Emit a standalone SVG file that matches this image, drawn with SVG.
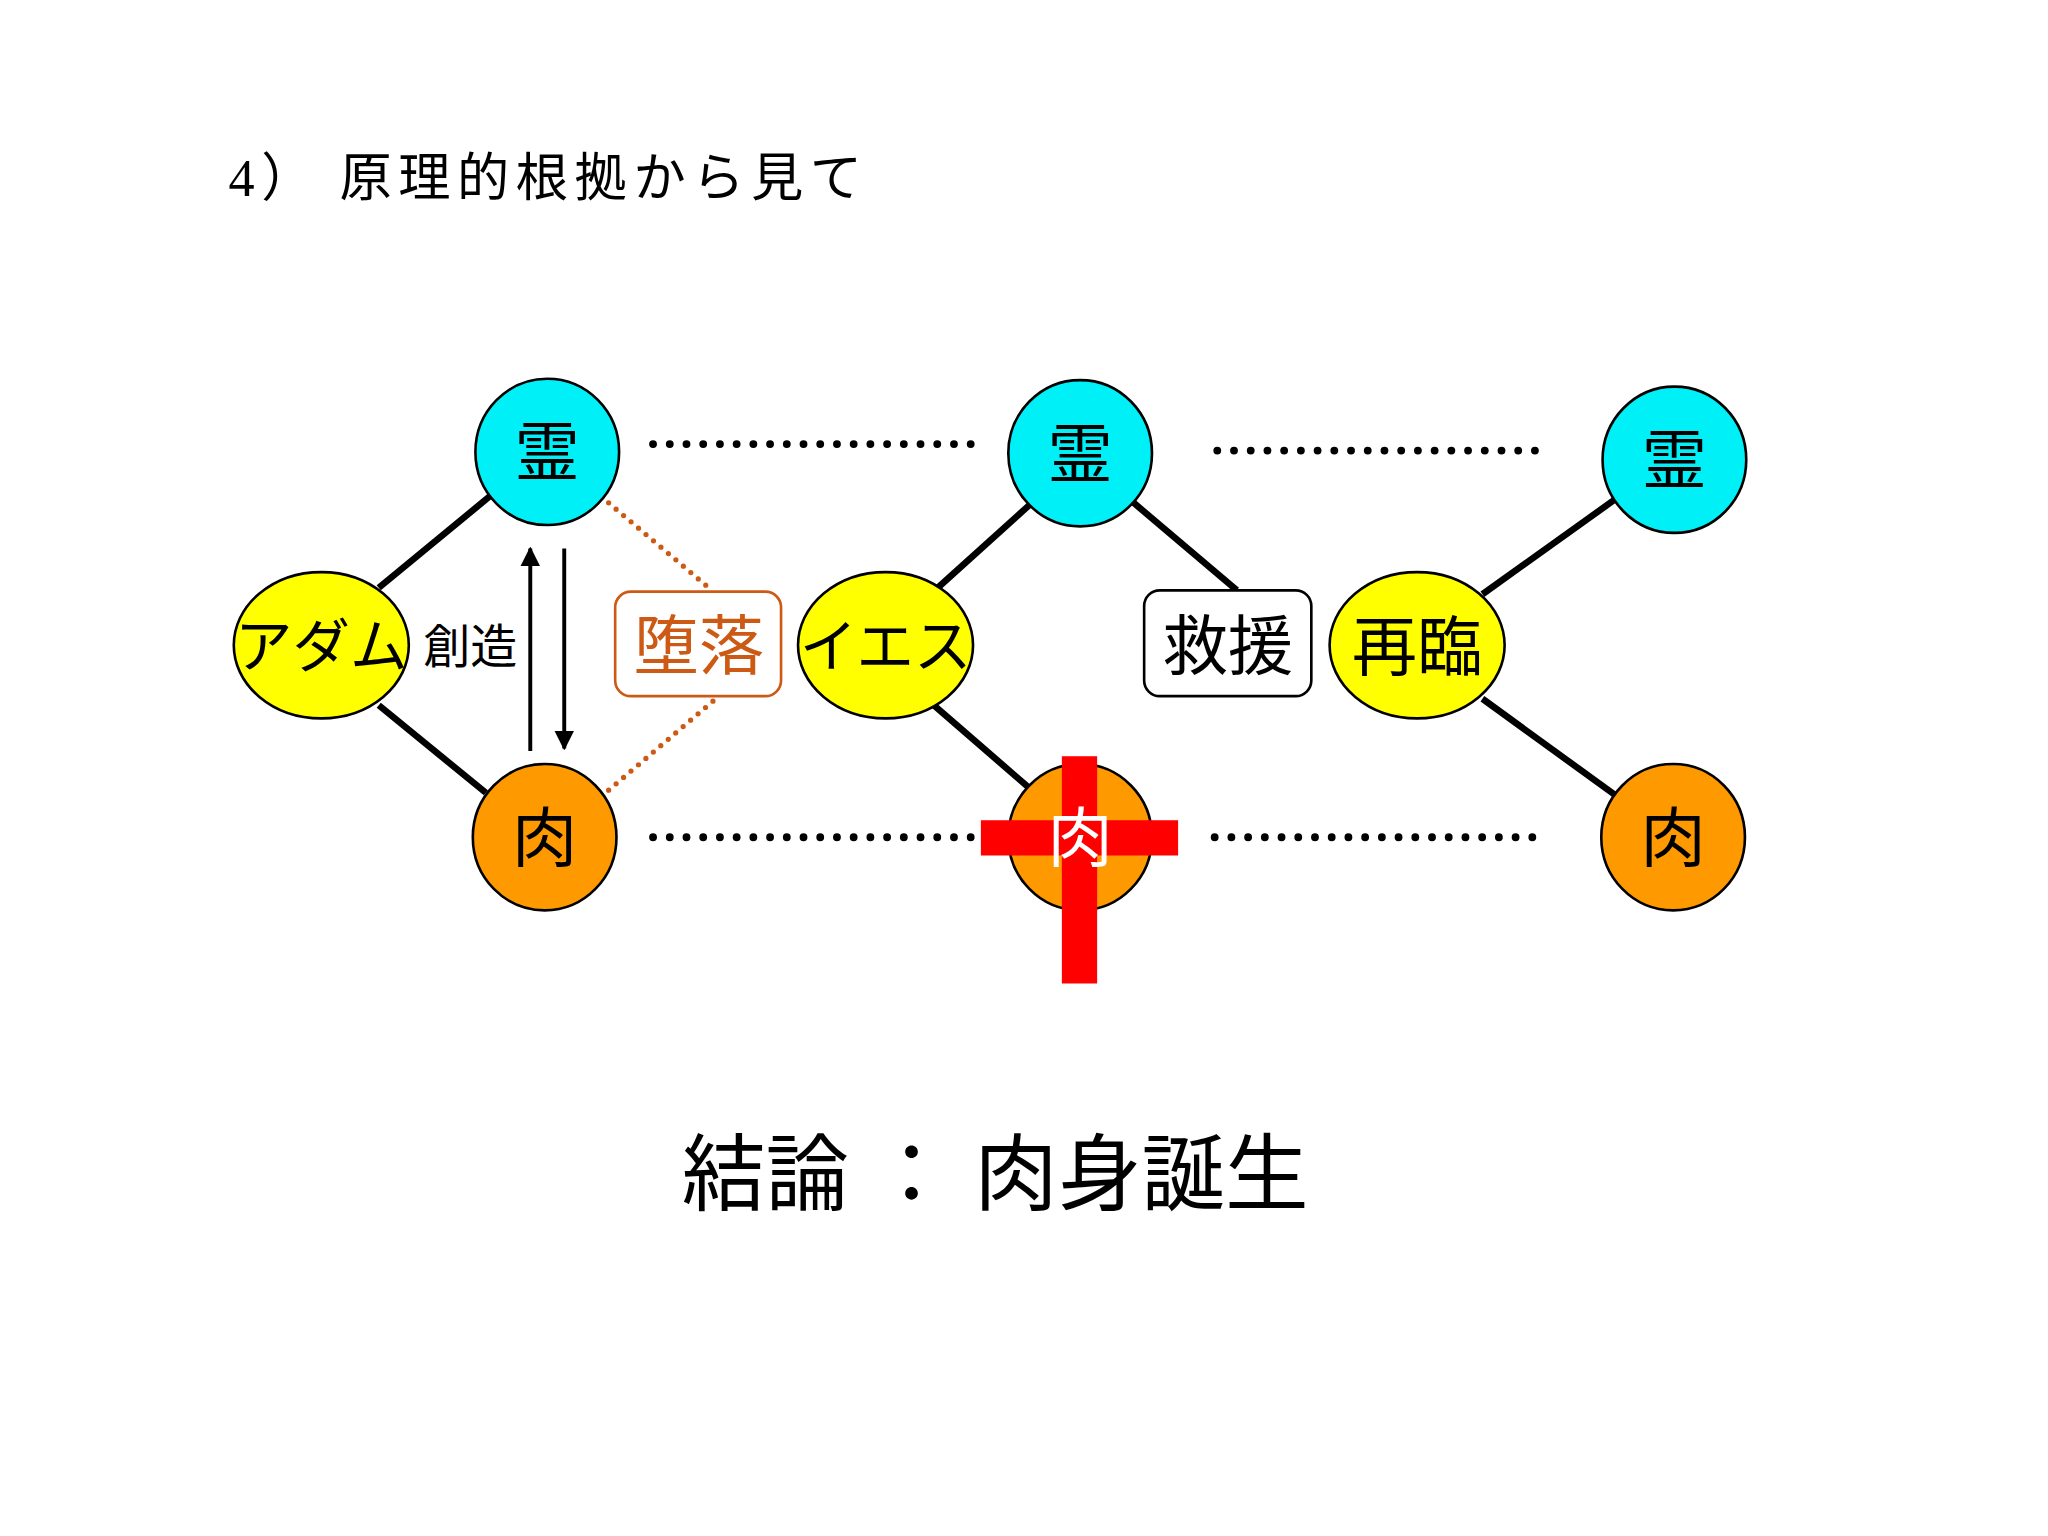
<svg xmlns="http://www.w3.org/2000/svg" width="2048" height="1536" viewBox="0 0 2048 1536">
<style>
text{font-family:"Liberation Serif","Noto Sans CJK JP",serif;text-anchor:middle;fill:#000}
.c{stroke:#000;stroke-width:2}
.ln{stroke:#000;stroke-width:5}
.dt{stroke:#000;stroke-width:6;stroke-linecap:round;stroke-dasharray:0 12.8}
.od{stroke:#CC5A14;stroke-width:4;stroke-linecap:round;stroke-dasharray:0 7.5}
.n{font-size:50px}
</style>
<defs><marker id="ah" viewBox="0 0 10 10" refX="9" refY="5" markerWidth="5" markerHeight="6" orient="auto"><path d="M0,0L10,5L0,10z" fill="#000"/></marker></defs>
<rect width="2048" height="1536" fill="#fff"/>
<g transform="scale(1.3061)">
<text x="175" y="150" font-size="40" letter-spacing="5" style="text-anchor:start">4） 原理的根拠から見て</text>
<g id="connectors">
<line class="ln" x1="290" y1="450" x2="375" y2="380"/>
<line class="ln" x1="290" y1="540" x2="372" y2="607"/>
<line class="ln" x1="718" y1="450" x2="790" y2="385"/>
<line class="ln" x1="715" y1="540" x2="790" y2="605"/>
<line class="ln" x1="868" y1="385" x2="947" y2="452"/>
<line class="ln" x1="1135" y1="455" x2="1237" y2="382"/>
<line class="ln" x1="1135" y1="535" x2="1237" y2="609"/>
<line class="dt" x1="500" y1="340" x2="746" y2="340"/>
<line class="dt" x1="932" y1="345" x2="1179" y2="345"/>
<line class="dt" x1="500" y1="641" x2="746" y2="641"/>
<line class="dt" x1="930" y1="641" x2="1176" y2="641"/>
<line class="od" x1="466" y1="385" x2="545" y2="452"/>
<line class="od" x1="466" y1="605" x2="548" y2="535"/>
<line stroke="#000" stroke-width="3" x1="406" y1="575" x2="406" y2="420" marker-end="url(#ah)"/>
<line stroke="#000" stroke-width="3" x1="432" y1="420" x2="432" y2="573" marker-end="url(#ah)"/>
</g>
<g id="rei1"><ellipse class="c" cx="419" cy="346" rx="55" ry="56" fill="#00F0F8"/><text class="n" x="419" y="364">霊</text></g>
<g id="rei2"><ellipse class="c" cx="827" cy="347" rx="55" ry="56" fill="#00F0F8"/><text class="n" x="827" y="365">霊</text></g>
<g id="rei3"><ellipse class="c" cx="1282" cy="352" rx="55" ry="56" fill="#00F0F8"/><text class="n" x="1282" y="370">霊</text></g>
<g id="niku1"><ellipse class="c" cx="417" cy="641" rx="55" ry="56" fill="#FF9900"/><text class="n" x="417" y="659">肉</text></g>
<g id="niku3"><ellipse class="c" cx="1281" cy="641" rx="55" ry="56" fill="#FF9900"/><text class="n" x="1281" y="659">肉</text></g>
<g id="niku2"><ellipse class="c" cx="827" cy="641" rx="55" ry="56" fill="#FF9900"/>
<rect x="813" y="579" width="27" height="174" fill="#FF0000"/><rect x="751" y="628" width="151" height="27" fill="#FF0000"/>
<text class="n" x="827" y="659" style="fill:#fff">肉</text></g>
<g id="adam"><ellipse class="c" cx="246" cy="494" rx="67" ry="56" fill="#FFFF00"/><text x="246" y="511" font-size="44">アダム</text></g>
<g id="iesu"><ellipse class="c" cx="678" cy="494" rx="67" ry="56" fill="#FFFF00"/><text x="678" y="511" font-size="44">イエス</text></g>
<g id="sairin"><ellipse class="c" cx="1085" cy="494" rx="67" ry="56" fill="#FFFF00"/><text class="n" x="1085" y="513">再臨</text></g>
<g id="daraku"><rect x="471" y="453" width="127" height="80" rx="12" fill="#fff" stroke="#CC5A14" stroke-width="2"/><text class="n" x="535" y="512" style="fill:#CC5A14">堕落</text></g>
<g id="kyuen"><rect x="876" y="452" width="128" height="81" rx="12" fill="#fff" stroke="#000" stroke-width="2"/><text class="n" x="940" y="512">救援</text></g>
<g id="souzou"><text x="360" y="508" font-size="36">創造</text></g>
<text x="762" y="922" font-size="64">結論 ： 肉身誕生</text>
</g>
</svg>
